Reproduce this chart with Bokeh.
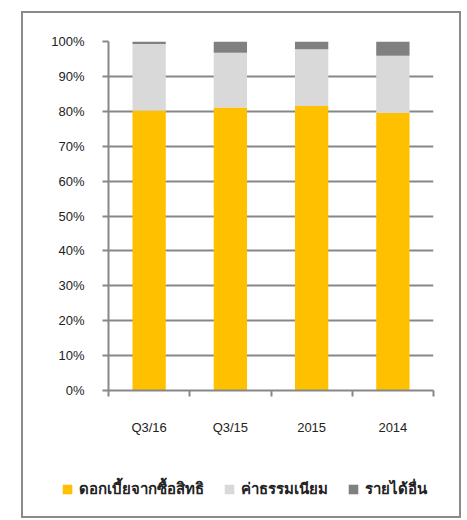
from bokeh.plotting import figure
from bokeh.layouts import column
from bokeh.models import (ColumnDataSource, Range1d, FixedTicker, Legend, LegendItem,
                          CustomJSTickFormatter)
from bokeh.embed import file_html
from bokeh.resources import INLINE

categories = ["Q3/16", "Q3/15", "2015", "2014"]
interest = [80.2, 81.1, 81.5, 79.5]
fees = [19.1, 15.7, 16.3, 16.4]
other = [0.7, 3.2, 2.2, 4.1]
series_names = ["ดอกเบี้ยจากซื้อสิทธิ", "ค่าธรรมเนียม", "รายได้อื่น"]
colors = ["#FFC000", "#D9D9D9", "#808080"]
y_ticks = [0, 10, 20, 30, 40, 50, 60, 70, 80, 90, 100]

FONT = "Liberation Sans"
GRID = "#878787"

x = [i + 0.5 for i in range(len(categories))]
src = ColumnDataSource(dict(x=x, interest=interest, fees=fees, other=other))

p = figure(width=436, height=440, output_backend="svg", toolbar_location=None,
           x_range=Range1d(0, len(categories)), y_range=Range1d(0, 100),
           min_border_left=85, min_border_right=26, min_border_top=28,
           min_border_bottom=63)
p.frame_align = False
p.outline_line_color = None
p.background_fill_color = "white"

r = p.vbar_stack(["interest", "fees", "other"], x="x", width=0.41, source=src,
                 color=colors, line_color=None)

# y axis
p.yaxis.ticker = FixedTicker(ticks=y_ticks)
p.yaxis.formatter = CustomJSTickFormatter(code="return tick + '%';")
p.yaxis.axis_line_color = GRID
p.yaxis.axis_line_width = 2
p.yaxis.major_tick_line_color = GRID
p.yaxis.major_tick_line_width = 2
p.yaxis.major_tick_out = 6
p.yaxis.major_tick_in = 0
p.yaxis.minor_tick_line_color = None
p.yaxis.major_label_standoff = 18
p.yaxis.major_label_text_font = FONT
p.yaxis.major_label_text_font_size = "13px"
p.yaxis.major_label_text_color = "#222222"

# x axis: labels at centers, ticks at boundaries
p.xaxis.ticker = FixedTicker(ticks=x, minor_ticks=list(range(len(categories) + 1)))
p.xaxis.major_label_overrides = {xx: c for xx, c in zip(x, categories)}
p.xaxis.axis_line_color = GRID
p.xaxis.axis_line_width = 2
p.xaxis.major_tick_line_color = None
p.xaxis.minor_tick_line_color = GRID
p.xaxis.minor_tick_line_width = 2
p.xaxis.minor_tick_out = 6
p.xaxis.minor_tick_in = 0
p.xaxis.major_tick_out = 0
p.xaxis.major_tick_in = 0
p.xaxis.major_label_standoff = 23
p.xaxis.major_label_text_font = FONT
p.xaxis.major_label_text_font_size = "13px"
p.xaxis.major_label_text_color = "#222222"

p.xgrid.grid_line_color = None
p.ygrid.ticker = FixedTicker(ticks=y_ticks)
p.ygrid.grid_line_color = GRID
p.ygrid.grid_line_width = 2

# legend panel (swatches only; drawn off-range)
pl = figure(width=436, height=63, output_backend="svg", toolbar_location=None,
            x_range=Range1d(0, 436), y_range=Range1d(0, 63),
            x_axis_type=None, y_axis_type=None,
            min_border_left=0, min_border_right=0, min_border_top=0, min_border_bottom=0)
pl.frame_align = False
pl.outline_line_color = None
pl.xgrid.grid_line_color = None
pl.ygrid.grid_line_color = None
dummies = [pl.vbar(x=[-1000], top=[-1000], width=1, fill_color=c, line_color=None)
           for c in colors]

legend = Legend(items=[LegendItem(label=n, renderers=[rr]) for n, rr in zip(series_names, dummies)],
                orientation="horizontal", location=(38, 15),
                glyph_width=12, glyph_height=12, label_standoff=6, spacing=19,
                padding=0, margin=0, border_line_color=None, background_fill_alpha=0,
                label_text_font="Noto Sans", label_text_font_size="15px",
                label_text_font_style="bold", label_text_color="#222222",
                label_height=14)
pl.add_layout(legend, "center")

layout = column(p, pl, spacing=0,
                styles={"border": "2px solid #8a8a8a", "margin-left": "21px",
                        "margin-top": "11px"})

open("out.html", "w").write(file_html(layout, INLINE))
